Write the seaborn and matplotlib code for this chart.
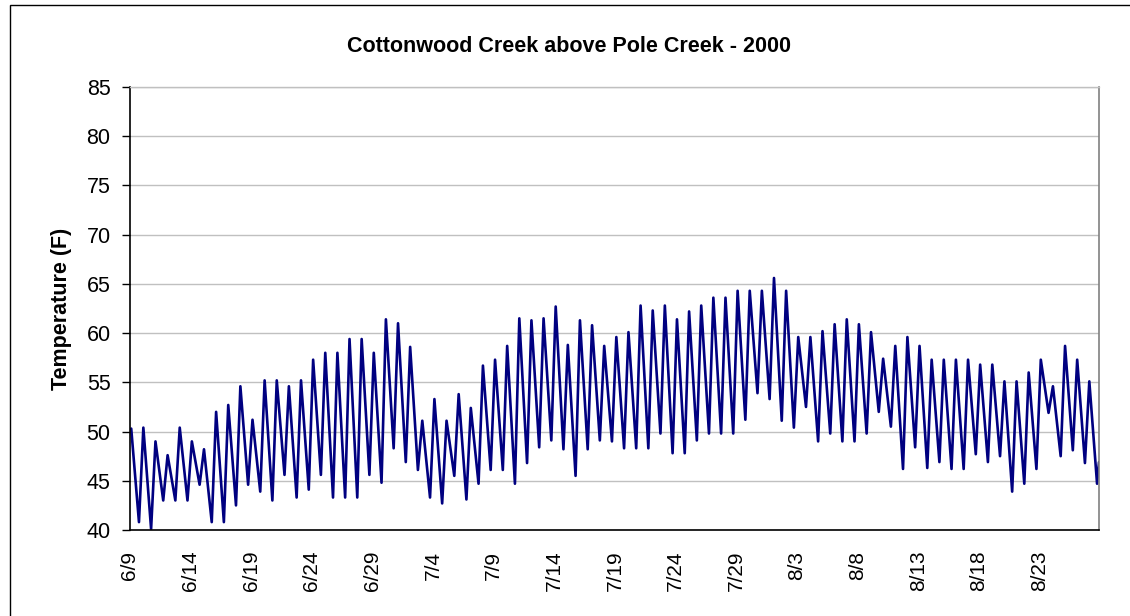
import matplotlib
matplotlib.use("Agg")
import matplotlib.pyplot as plt
import pandas as pd
import seaborn as sns
from matplotlib.patches import Rectangle

# ---------------- data ----------------
title = "Cottonwood Creek above Pole Creek - 2000"
y_label = "Temperature (F)"

# first reading / x origin of the category axis
series_start = "2000-06-09 12:00"

# daily afternoon maxima, 6/9 .. 8/27 (deg F)
max_dates = pd.date_range("2000-06-09", periods=80, freq="D")
max_time_of_day = "14:25"
daily_max = [
    50.3, 50.4, 49.0, 47.6, 50.4, 49.0, 48.2, 52.0, 52.7, 54.6,   # 6/9 - 6/18
    51.2, 55.2, 55.2, 54.6, 55.2, 57.3, 58.0, 58.0, 59.4, 59.4,   # 6/19 - 6/28
    58.0, 61.4, 61.0, 58.6, 51.1, 53.3, 51.1, 53.8, 52.4, 56.7,   # 6/29 - 7/8
    57.3, 58.7, 61.5, 61.3, 61.5, 62.7, 58.8, 61.3, 60.8, 58.7,   # 7/9 - 7/18
    59.6, 60.1, 62.8, 62.3, 62.8, 61.4, 62.2, 62.8, 63.6, 63.6,   # 7/19 - 7/28
    64.3, 64.3, 64.3, 65.6, 64.3, 59.6, 59.6, 60.2, 60.9, 61.4,   # 7/29 - 8/7
    60.9, 60.1, 57.4, 58.7, 59.6, 58.7, 57.3, 57.3, 57.3, 57.3,   # 8/8 - 8/17
    56.8, 56.8, 55.1, 55.1, 56.0, 57.3, 54.6, 58.7, 57.3, 55.1,   # 8/18 - 8/27
]

# daily early-morning minima, 6/10 .. 8/28 (deg F)
min_dates = pd.date_range("2000-06-10", periods=80, freq="D")
min_time_of_day = "05:45"
daily_min = [
    40.8, 40.1, 43.0, 43.0, 43.0, 44.6, 40.8, 40.8, 42.5, 44.6,
    43.9, 43.0, 45.6, 43.3, 44.1, 45.6, 43.3, 43.3, 43.3, 45.6,
    44.8, 48.3, 46.9, 46.1, 43.3, 42.7, 45.5, 43.1, 44.7, 46.1,
    46.1, 44.7, 46.8, 48.4, 49.1, 48.2, 45.5, 48.2, 49.1, 49.0,
    48.3, 48.3, 48.3, 49.8, 47.8, 47.8, 49.1, 49.8, 49.8, 49.8,
    51.2, 53.9, 53.3, 51.1, 50.4, 52.5, 49.0, 49.8, 49.0, 49.0,
    49.8, 52.0, 50.5, 46.2, 48.4, 46.3, 46.9, 46.2, 46.2, 47.7,
    46.9, 47.5, 43.9, 44.7, 46.2, 51.9, 47.5, 48.1, 46.8, 44.7,
]

# last reading
last_time = "2000-08-28 09:35"
last_temp = 46.9

tick_labels = ["6/9", "6/14", "6/19", "6/24", "6/29", "7/4", "7/9", "7/14",
               "7/19", "7/24", "7/29", "8/3", "8/8", "8/13", "8/18", "8/23"]
y_ticks = [40, 45, 50, 55, 60, 65, 70, 75, 80, 85]

# ---------------- build table ----------------
start = pd.Timestamp(series_start)
times = (list(max_dates + pd.Timedelta(max_time_of_day + ":00"))
         + list(min_dates + pd.Timedelta(min_time_of_day + ":00"))
         + [pd.Timestamp(last_time)])
temps = daily_max + daily_min + [last_temp]
df = pd.DataFrame({"time": times, "temp": temps}).sort_values("time")
df["day"] = (df["time"] - start) / pd.Timedelta(days=1)

tick_pos = [(pd.Timestamp("2000/" + lbl + " 12:00") - start) / pd.Timedelta(days=1)
            for lbl in tick_labels]

# ---------------- style ----------------
sns.set_theme(style="white")
plt.rcParams["font.family"] = ["Liberation Sans", "DejaVu Sans"]
for key in ["text.color", "axes.labelcolor", "xtick.color", "ytick.color"]:
    plt.rcParams[key] = "black"

fig = plt.figure(figsize=(11.3, 6.16), dpi=100)
ax = fig.add_axes([130 / 1130, 1 - 530 / 616, (1099 - 130) / 1130, (530 - 87) / 616])

sns.lineplot(data=df, x="day", y="temp", sort=False, estimator=None,
             color="#000080", linewidth=1.9, ax=ax)

ax.set_xlim(0, df["day"].max())
ax.set_ylim(40, 85)
ax.set_yticks(y_ticks)
ax.set_xticks(tick_pos)
ax.set_xticklabels(tick_labels, rotation=90, fontsize=15)
ax.tick_params(axis="y", direction="out", length=6, width=1, color="black",
               labelsize=15.5, pad=8, left=True)
ax.tick_params(axis="x", length=0, pad=15)
ax.set_xlabel("")
ax.set_ylabel("")

ax.yaxis.grid(True, color="#C0C0C0", linewidth=1)
ax.xaxis.grid(False)
ax.set_axisbelow(True)
for side in ["left", "bottom"]:
    ax.spines[side].set_color("black")
    ax.spines[side].set_linewidth(1.2)
ax.spines["right"].set_color("#808080")
ax.spines["right"].set_linewidth(1.2)
ax.spines["top"].set_color("#C0C0C0")
ax.spines["top"].set_linewidth(1)

fig.text(569 / 1130, 1 - 46 / 616, title, ha="center", va="center",
         fontsize=15.5, fontweight="bold")
fig.text(62 / 1130, 1 - 309 / 616, y_label, ha="center", va="center",
         rotation=90, fontsize=15.5, fontweight="bold")

fig.patches.append(Rectangle((10 / 1130, -0.1), 1.2, 1.1 - 5 / 616,
                             transform=fig.transFigure, fill=False,
                             edgecolor="black", linewidth=1))

fig.savefig("out.png", dpi=100, facecolor="white")
